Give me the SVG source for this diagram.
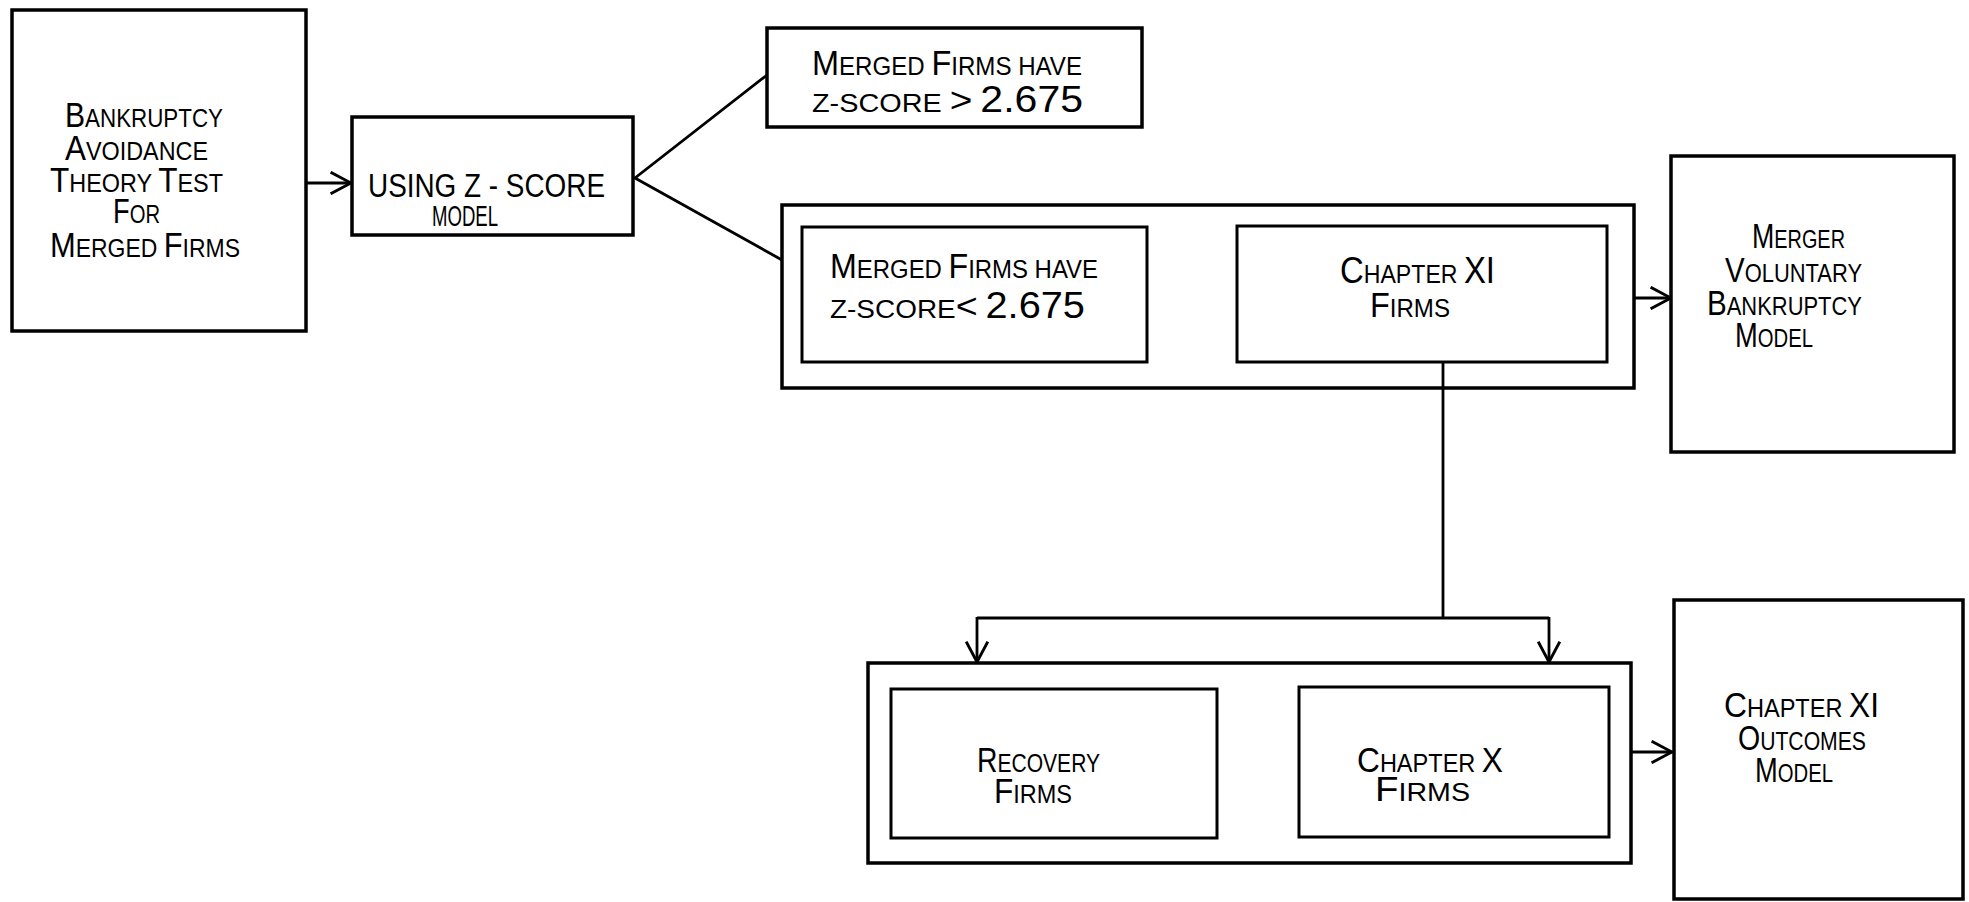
<svg xmlns="http://www.w3.org/2000/svg" width="1969" height="902" viewBox="0 0 1969 902">
<style>
  .box{fill:none;stroke:#000;stroke-width:3.5}
  .inner{fill:none;stroke:#000;stroke-width:3}
  .conn{fill:none;stroke:#000;stroke-width:2.8}
  text{font-family:"Liberation Sans",Arial,sans-serif;fill:#000;font-size:26px}
  .c{font-size:35px}
  .d{font-size:37px}
</style>
<defs>
  <marker id="arr" viewBox="0 0 20 20" refX="19" refY="10" markerWidth="24" markerHeight="24" markerUnits="userSpaceOnUse" orient="auto">
    <path d="M2,1 L19,10 L2,19" fill="none" stroke="#000" stroke-width="2.4"/>
  </marker>
</defs>
<rect width="1969" height="902" fill="#fff"/>

<g id="connectors">
  <line class="conn" x1="306" y1="183" x2="351" y2="183" marker-end="url(#arr)"/>
  <polyline class="conn" points="767,75 635,178 782,260" stroke-width="3.5"/>
  <line class="conn" x1="1634" y1="298" x2="1671" y2="298" marker-end="url(#arr)"/>
  <line class="conn" x1="1443" y1="362" x2="1443" y2="618"/>
  <line class="conn" x1="977" y1="618" x2="1549" y2="618" stroke-width="3.2"/>
  <line class="conn" x1="977" y1="617" x2="977" y2="662" marker-end="url(#arr)"/>
  <line class="conn" x1="1549" y1="617" x2="1549" y2="662" marker-end="url(#arr)"/>
  <line class="conn" x1="1631" y1="752" x2="1672" y2="752" marker-end="url(#arr)"/>
</g>

<g id="bankruptcy-avoidance">
  <rect class="box" x="12" y="10" width="294" height="321"/>
  <text x="65" y="127" textLength="158" lengthAdjust="spacingAndGlyphs"><tspan class="c">B</tspan>ANKRUPTCY</text>
  <text x="65" y="160" textLength="143" lengthAdjust="spacingAndGlyphs"><tspan class="c">A</tspan>VOIDANCE</text>
  <text x="50" y="192" textLength="173" lengthAdjust="spacingAndGlyphs"><tspan class="c">T</tspan>HEORY <tspan class="c">T</tspan>EST</text>
  <text x="113" y="223" textLength="47" lengthAdjust="spacingAndGlyphs"><tspan class="c">F</tspan>OR</text>
  <text x="50" y="257" textLength="190" lengthAdjust="spacingAndGlyphs"><tspan class="c">M</tspan>ERGED <tspan class="c">F</tspan>IRMS</text>
</g>

<g id="z-score-model">
  <rect class="box" x="352" y="117" width="281" height="118"/>
  <text x="368" y="197" textLength="237" lengthAdjust="spacingAndGlyphs" style="font-size:34px">USING Z - SCORE</text>
  <text x="432" y="226" textLength="66" lengthAdjust="spacingAndGlyphs" style="font-size:29px">MODEL</text>
</g>

<g id="zscore-above">
  <rect class="box" x="767" y="28" width="375" height="99"/>
  <text x="812" y="75" textLength="270" lengthAdjust="spacingAndGlyphs"><tspan class="c">M</tspan>ERGED <tspan class="c">F</tspan>IRMS HAVE</text>
  <text x="812" y="112" textLength="271" lengthAdjust="spacingAndGlyphs">Z-SCORE <tspan class="c">&gt;</tspan>  <tspan class="d">2.675</tspan></text>
</g>

<g id="distress-group">
  <rect class="box" x="782" y="205" width="852" height="183"/>
  <g id="zscore-below">
    <rect class="inner" x="802" y="227" width="345" height="135"/>
    <text x="830" y="278" textLength="268" lengthAdjust="spacingAndGlyphs"><tspan class="c">M</tspan>ERGED <tspan class="c">F</tspan>IRMS HAVE</text>
    <text x="830" y="318" textLength="255" lengthAdjust="spacingAndGlyphs">Z-SCORE<tspan class="c">&lt;</tspan> <tspan class="d">2.675</tspan></text>
  </g>
  <g id="chapter-xi-firms">
    <rect class="inner" x="1237" y="226" width="370" height="136"/>
    <text x="1340" y="283" textLength="155" lengthAdjust="spacingAndGlyphs"><tspan class="d">C</tspan>HAPTER <tspan class="d">XI</tspan></text>
    <text x="1370" y="317" textLength="80" lengthAdjust="spacingAndGlyphs"><tspan class="c">F</tspan>IRMS</text>
  </g>
</g>

<g id="merger-voluntary-model">
  <rect class="box" x="1671" y="156" width="283" height="296"/>
  <text x="1752" y="248" textLength="93" lengthAdjust="spacingAndGlyphs"><tspan class="c">M</tspan>ERGER</text>
  <text x="1725" y="282" textLength="137" lengthAdjust="spacingAndGlyphs"><tspan class="c">V</tspan>OLUNTARY</text>
  <text x="1707" y="315" textLength="155" lengthAdjust="spacingAndGlyphs"><tspan class="c">B</tspan>ANKRUPTCY</text>
  <text x="1735" y="347" textLength="78" lengthAdjust="spacingAndGlyphs"><tspan class="c">M</tspan>ODEL</text>
</g>

<g id="outcome-group">
  <rect class="box" x="868" y="663" width="763" height="200"/>
  <g id="recovery-firms">
    <rect class="inner" x="891" y="689" width="326" height="149"/>
    <text x="977" y="772" textLength="123" lengthAdjust="spacingAndGlyphs"><tspan class="c">R</tspan>ECOVERY</text>
    <text x="994" y="803" textLength="78" lengthAdjust="spacingAndGlyphs"><tspan class="c">F</tspan>IRMS</text>
  </g>
  <g id="chapter-x-firms">
    <rect class="inner" x="1299" y="687" width="310" height="150"/>
    <text x="1357" y="772" textLength="146" lengthAdjust="spacingAndGlyphs"><tspan class="c">C</tspan>HAPTER <tspan class="c">X</tspan></text>
    <text x="1375" y="801" textLength="95" lengthAdjust="spacingAndGlyphs"><tspan class="c">F</tspan>IRMS</text>
  </g>
</g>

<g id="chapter-xi-outcomes-model">
  <rect class="box" x="1674" y="600" width="289" height="299"/>
  <text x="1724" y="717" textLength="155" lengthAdjust="spacingAndGlyphs"><tspan class="c">C</tspan>HAPTER <tspan class="c">XI</tspan></text>
  <text x="1738" y="750" textLength="128" lengthAdjust="spacingAndGlyphs"><tspan class="c">O</tspan>UTCOMES</text>
  <text x="1755" y="782" textLength="78" lengthAdjust="spacingAndGlyphs"><tspan class="c">M</tspan>ODEL</text>
</g>
</svg>
